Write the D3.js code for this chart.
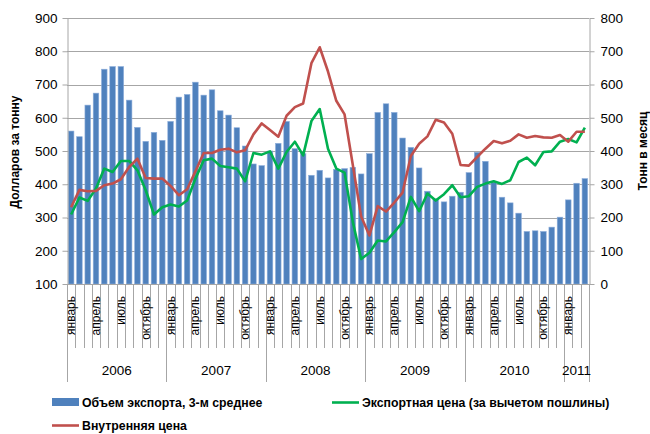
<!DOCTYPE html>
<html>
<head>
  <meta charset="utf-8">
  <script src="https://d3js.org/d3.v7.min.js"></script>
  <style>
    body { margin: 0; background: #fff; }
    text { font-family: "Liberation Sans", Arial, sans-serif; fill: #000; }
  </style>
</head>
<body>
  <svg id="chart"></svg>
  <script>
    // months shown, Jan 2006 .. Mar 2011
    const years = ["2006", "2007", "2008", "2009", "2010", "2011"];
    const monthsPerYear = [12, 12, 12, 12, 12, 3];
    const monthNames = ["январь", "февраль", "март", "апрель", "май", "июнь",
                        "июль", "август", "сентябрь", "октябрь", "ноябрь", "декабрь"];

    // export volume, 3-month average (tonnes per month, right axis)
    const exportVolume = [
      460, 443, 538, 574, 646, 654, 654, 553, 471, 429, 456, 432,
      489, 562, 570, 607, 568, 584, 521, 508, 470, 415, 361, 356,
      400, 423, 489, 407, 392, 327, 342, 319, 345, 347, 351, 331,
      392, 516, 542, 516, 439, 411, 349, 279, 256, 247, 264, 276,
      335, 396, 369, 306, 261, 244, 213, 158, 160, 158, 171, 201,
      253, 303, 317
    ];
    // export price net of duty ($/t, left axis)
    const exportPrice = [
      309, 360, 350, 387, 447, 437, 470, 470, 442, 382, 309, 331,
      339, 333, 351, 417, 472, 477, 455, 451, 447, 409, 494, 489,
      499, 447, 497, 528, 487, 590, 626, 507, 447, 435, 286, 175,
      194, 231, 228, 256, 286, 362, 319, 372, 351, 370, 397, 361,
      364, 392, 402, 409, 401, 412, 467, 480, 457, 497, 499, 528,
      536, 526, 570
    ];
    // domestic price ($/t, left axis)
    const domesticPrice = [
      331, 383, 379, 380, 397, 402, 415, 452, 477, 419, 417, 417,
      395, 367, 385, 439, 494, 494, 504, 507, 496, 502, 550, 583,
      563, 543, 606, 632, 643, 764, 812, 739, 651, 610, 457, 303,
      246, 334, 318, 345, 375, 485, 522, 544, 594, 586, 552, 458,
      456, 482, 507, 530, 523, 531, 550, 540, 545, 541, 540, 548,
      528, 558, 558
    ];
    const leftTicks = [100, 200, 300, 400, 500, 600, 700, 800, 900];
    const rightTicks = [0, 100, 200, 300, 400, 500, 600, 700, 800];

    const width = 650, height = 434;
    const plotLeft = 67, plotRight = 589, plotTop = 18, plotBottom = 284;

    const svg = d3.select("#chart").attr("width", width).attr("height", height);

    // build month list
    const months = [];
    years.forEach((y, yi) => {
      for (let m = 0; m < monthsPerYear[yi]; m++) months.push({ year: y, month: m, idx: months.length });
    });

    const x = d3.scaleBand()
      .domain(months.map(d => d.idx))
      .range([plotLeft, plotRight])
      .paddingInner(0.33)
      .paddingOuter(0.165);
    const step = (plotRight - plotLeft) / months.length;
    const yL = d3.scaleLinear().domain([100, 900]).range([plotBottom, plotTop]);
    const yR = d3.scaleLinear().domain([0, 800]).range([plotBottom, plotTop]);

    // gridlines
    svg.append("g").selectAll("line")
      .data(leftTicks)
      .enter().append("line")
      .attr("x1", plotLeft).attr("x2", plotRight)
      .attr("y1", d => Math.round(yL(d)) + 0.5).attr("y2", d => Math.round(yL(d)) + 0.5)
      .attr("stroke", "#a6a6a6").attr("stroke-width", 1);

    // bars
    svg.append("g").selectAll("rect")
      .data(exportVolume)
      .enter().append("rect")
      .attr("x", (d, i) => x(i))
      .attr("y", d => yR(d))
      .attr("width", x.bandwidth())
      .attr("height", d => plotBottom - yR(d))
      .attr("fill", "#4f81bd")
      .attr("stroke", "#8eaedb")
      .attr("stroke-width", 0.6);

    // lines
    const line = d3.line()
      .x((d, i) => x(i) + x.bandwidth() / 2)
      .y(d => yL(d));
    svg.append("path").datum(exportPrice)
      .attr("d", line).attr("fill", "none")
      .attr("stroke", "#00b050").attr("stroke-width", 2.6)
      .attr("stroke-linejoin", "round");
    svg.append("path").datum(domesticPrice)
      .attr("d", line).attr("fill", "none")
      .attr("stroke", "#c0504d").attr("stroke-width", 2.6)
      .attr("stroke-linejoin", "round");

    // left axis
    const axL = svg.append("g")
      .attr("transform", `translate(${plotLeft + 0.5},0)`)
      .call(d3.axisLeft(yL).tickValues(leftTicks).tickSize(5).tickSizeOuter(0).tickPadding(5));
    // right axis
    const axR = svg.append("g")
      .attr("transform", `translate(${plotRight + 0.5},0)`)
      .call(d3.axisRight(yR).tickValues(rightTicks).tickSize(5).tickSizeOuter(0).tickPadding(6));
    [axL, axR].forEach(ax => {
      ax.select(".domain").attr("stroke", "#a6a6a6");
      ax.selectAll(".tick line").attr("stroke", "#a6a6a6");
      ax.selectAll(".tick text")
        .style("font-family", "'Liberation Sans', Arial, sans-serif")
        .style("font-size", "13.5px").attr("fill", "#000");
    });

    // bottom axis line
    svg.append("line")
      .attr("x1", plotLeft).attr("x2", plotRight)
      .attr("y1", plotBottom + 0.5).attr("y2", plotBottom + 0.5)
      .attr("stroke", "#a6a6a6");

    // month tick marks, year separators run longer
    const bounds = d3.range(months.length + 1);
    svg.append("g").selectAll("line")
      .data(bounds)
      .enter().append("line")
      .attr("x1", d => Math.round(plotLeft + d * step) + 0.5)
      .attr("x2", d => Math.round(plotLeft + d * step) + 0.5)
      .attr("y1", plotBottom)
      .attr("y2", d => (d === months.length || months[d].month === 0) ? 382 : 348)
      .attr("stroke", "#a6a6a6");

    // month labels (every 3rd)
    svg.append("g").selectAll("text")
      .data(months.filter(d => d.month % 3 === 0))
      .enter().append("text")
      .attr("transform", d => `translate(${x(d.idx) + x.bandwidth() / 2 + 4},296) rotate(-90)`)
      .attr("text-anchor", "end")
      .style("font-size", "12px")
      .text(d => monthNames[d.month]);

    // year labels
    let start = 0;
    years.forEach((y, yi) => {
      const x0 = plotLeft + start * step, x1 = plotLeft + (start + monthsPerYear[yi]) * step;
      svg.append("text")
        .attr("x", (x0 + x1) / 2).attr("y", 375)
        .attr("text-anchor", "middle")
        .style("font-size", "13.5px")
        .text(y);
      start += monthsPerYear[yi];
    });

    // axis titles
    svg.append("text")
      .attr("transform", "translate(19,152) rotate(-90)")
      .attr("text-anchor", "middle")
      .style("font-size", "12px").style("font-weight", "bold")
      .text("Долларов за тонну");
    svg.append("text")
      .attr("transform", "translate(647,151) rotate(-90)")
      .attr("text-anchor", "middle")
      .style("font-size", "12px").style("font-weight", "bold")
      .text("Тонн в месяц");

    // legend
    const legend = svg.append("g").style("font-size", "12.3px").style("font-weight", "bold");
    legend.append("rect").attr("x", 52).attr("y", 398).attr("width", 27).attr("height", 8).attr("fill", "#4f81bd");
    legend.append("text").attr("x", 82).attr("y", 407).text("Объем экспорта, 3-м среднее");
    legend.append("line").attr("x1", 332).attr("x2", 359).attr("y1", 402.5).attr("y2", 402.5)
      .attr("stroke", "#00b050").attr("stroke-width", 2.6);
    legend.append("text").attr("x", 362).attr("y", 407).text("Экспортная цена (за вычетом пошлины)");
    legend.append("line").attr("x1", 52).attr("x2", 79).attr("y1", 425.5).attr("y2", 425.5)
      .attr("stroke", "#c0504d").attr("stroke-width", 2.6);
    legend.append("text").attr("x", 82).attr("y", 430).text("Внутренняя цена");
  </script>
</body>
</html>
